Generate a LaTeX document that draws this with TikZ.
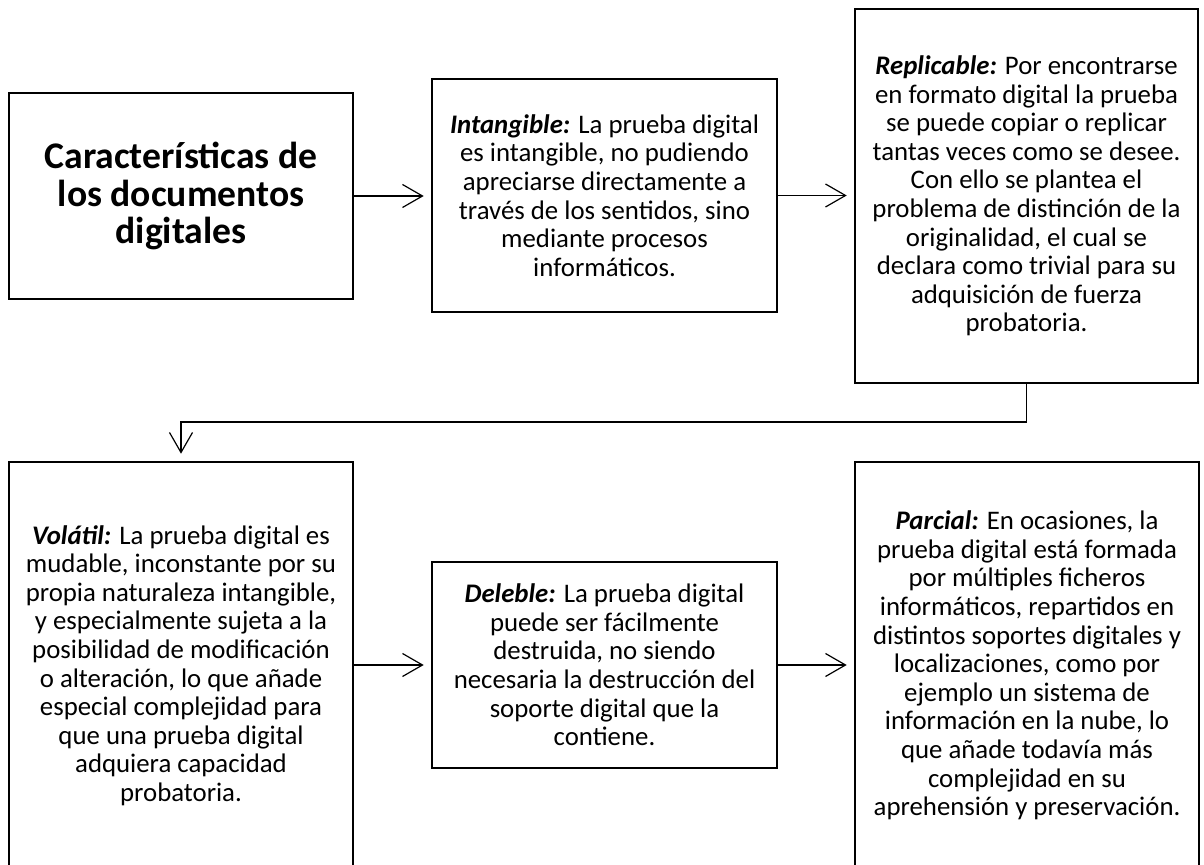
\documentclass[tikz,border=0pt]{standalone}
\usepackage{fontspec}
\setmainfont{Carlito}
\usetikzlibrary{arrows.meta}
\begin{document}
\begin{tikzpicture}[x=0.5pt,y=-0.5pt,
  box/.style={draw=black, line width=1.3pt, inner sep=0pt, align=center,
    font=\fontsize{13.4}{14.3}\selectfont},
  conn/.style={line width=0.6pt, -{Straight Barb[length=10pt,width=11.5pt,line width=0.6pt]}, shorten >=3.5pt}
]
\useasboundingbox (0,0) rectangle (1204,865);
\clip (0,0) rectangle (1204,865);
\node[box, minimum width=172pt, minimum height=103pt,
  font=\fontsize{18.8}{18.9}\selectfont\bfseries] (b1) at (181,196)
  {Características de\\los documentos\\digitales};
\node[box, minimum width=172.5pt, minimum height=116.5pt] (b2) at (604.5,195.5)
  {\textbf{\textit{Intangible:}} La prueba digital\\es intangible, no pudiendo\\apreciarse directamente a\\través de los sentidos, sino\\mediante procesos\\informáticos.};
\node[box, minimum width=171.5pt, minimum height=187pt] (b3) at (1026.5,196)
  {\textbf{\textit{Replicable:}} Por encontrarse\\en formato digital la prueba\\se puede copiar o replicar\\tantas veces como se desee.\\Con ello se plantea el\\problema de distinción de la\\originalidad, el cual se\\declara como trivial para su\\adquisición de fuerza\\probatoria.};
\node[box, minimum width=172pt, minimum height=203.5pt] (b4) at (181,665.5)
  {\textbf{\textit{Volátil:}} La prueba digital es\\mudable, inconstante por su\\propia naturaleza intangible,\\y especialmente sujeta a la\\posibilidad de modificación\\o alteración, lo que añade\\especial complejidad para\\que una prueba digital\\adquiera capacidad\\probatoria.};
\node[box, minimum width=172.5pt, minimum height=103pt] (b5) at (604.5,665)
  {\textbf{\textit{Deleble:}} La prueba digital\\puede ser fácilmente\\destruida, no siendo\\necesaria la destrucción del\\soporte digital que la\\contiene.};
\node[box, minimum width=172pt, minimum height=203.5pt] (b6) at (1027,665.5)
  {\textbf{\textit{Parcial:}} En ocasiones, la\\prueba digital está formada\\por múltiples ficheros\\informáticos, repartidos en\\distintos soportes digitales y\\localizaciones, como por\\ejemplo un sistema de\\información en la nube, lo\\que añade todavía más\\complejidad en su\\aprehensión y preservación.};
\coordinate (bend) at (1026.5,422);
\draw[conn] (b1.east) -- (b1.east -| b2.west);
\draw[conn] (b2.east) -- (b2.east -| b3.west);
\draw[conn] (b3.south) -- (bend) -| (b4.north);
\draw[conn] (b4.east |- b5.west) -- (b5.west);
\draw[conn] (b5.east) -- (b5.east -| b6.west);
\end{tikzpicture}
\end{document}
